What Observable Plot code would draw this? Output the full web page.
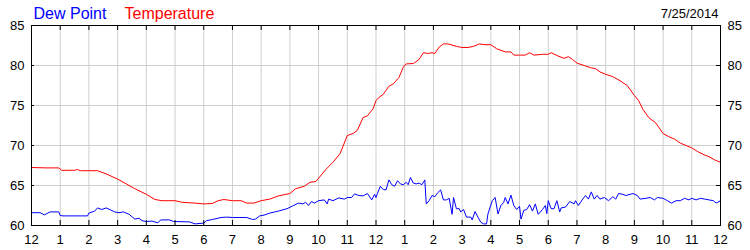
<!DOCTYPE html>
<html>
<head>
<meta charset="utf-8">
<script src="https://cdn.jsdelivr.net/npm/d3@7"></script>
<script src="https://cdn.jsdelivr.net/npm/@observablehq/plot@0.6"></script>
<style>
  html, body { margin: 0; padding: 0; background: #ffffff; }
  #chart svg { display: block; }
</style>
</head>
<body>
<div id="chart"></div>
<script>
// ---- Data (hours since midnight, degrees F) ----
const tempHours = [0,0.5,0.95,1.05,1.5,1.6,1.7,2.3,2.6,3.0,3.3,3.6,4.0,4.3,4.55,5.0,5.25,5.7,6.0,6.3,6.5,6.7,7.0,7.3,7.5,7.75,8.0,8.3,8.6,9.0,9.2,9.5,9.7,9.9,10.0,10.25,10.5,10.75,11.0,11.2,11.35,11.55,11.7,11.9,12.0,12.1,12.25,12.45,12.6,12.8,12.95,13.05,13.3,13.5,13.65,13.8,13.95,14.05,14.2,14.35,14.5,14.8,15.0,15.2,15.4,15.6,15.8,16.0,16.2,16.5,16.7,16.8,17.0,17.2,17.35,17.5,17.8,18.0,18.1,18.3,18.55,18.7,18.85,19.0,19.25,19.5,19.65,19.8,20.0,20.25,20.5,20.75,21.0,21.15,21.3,21.5,21.75,22.0,22.2,22.4,22.6,22.8,23.0,23.2,23.45,23.6,23.8,24.0];
const tempValues = [67.25,67.2,67.2,66.9,66.9,67.0,66.85,66.85,66.45,65.8,65.2,64.6,63.9,63.25,63.1,63.1,62.9,62.8,62.7,62.75,63.1,63.25,63.1,63.1,62.8,62.8,63.1,63.3,63.7,64.0,64.6,64.9,65.4,65.5,65.9,67.0,67.9,69.0,71.25,71.5,71.9,73.5,73.7,74.6,75.6,76.0,76.4,77.4,77.7,78.5,79.8,80.2,80.25,80.75,81.6,81.5,81.6,81.5,82.3,82.7,82.7,82.4,82.25,82.25,82.4,82.7,82.6,82.6,82.1,81.7,81.7,81.3,81.3,81.3,81.6,81.3,81.4,81.4,81.6,81.25,80.9,81.1,80.75,80.3,80.0,79.7,79.6,79.2,78.9,78.6,78.1,77.5,76.25,75.6,74.5,73.5,72.8,71.5,71.1,70.8,70.3,70.0,69.7,69.25,68.8,68.6,68.2,67.9];

const dewHours = [0,0.3,0.45,0.65,0.95,1.0,1.1,1.95,2.0,2.2,2.3,2.45,2.6,2.75,2.9,3.05,3.2,3.4,3.6,3.75,3.85,4.0,4.2,4.4,4.5,4.8,4.95,5.5,5.7,6.0,6.1,6.3,6.6,6.8,7.0,7.5,7.7,7.8,7.95,8.1,8.3,8.6,8.9,9.1,9.3,9.45,9.55,9.65,9.75,9.85,10.0,10.2,10.3,10.35,10.5,10.7,10.9,11.0,11.15,11.25,11.4,11.55,11.7,11.85,11.95,12.0,12.05,12.15,12.25,12.35,12.45,12.55,12.65,12.75,12.85,12.95,13.05,13.12,13.2,13.3,13.4,13.5,13.6,13.7,13.75,13.85,13.95,14.05,14.15,14.25,14.35,14.45,14.55,14.65,14.7,14.8,14.9,14.95,15.05,15.15,15.3,15.35,15.45,15.55,15.65,15.75,15.85,15.9,16.05,16.15,16.25,16.35,16.45,16.5,16.6,16.7,16.8,16.9,17.0,17.05,17.15,17.25,17.35,17.45,17.55,17.65,17.8,17.9,17.95,18.0,18.1,18.2,18.3,18.4,18.45,18.6,18.75,18.9,18.95,19.05,19.2,19.3,19.4,19.5,19.6,19.7,19.8,19.95,20.1,20.25,20.35,20.45,20.6,20.7,20.85,20.95,21.1,21.2,21.4,21.55,21.7,21.8,22.0,22.15,22.3,22.45,22.6,22.75,22.9,23.0,23.15,23.3,23.45,23.6,23.75,23.85,24.0];
const dewValues = [61.6,61.6,61.33,61.7,61.7,61.25,61.2,61.2,61.55,61.8,62.2,62.0,62.2,61.95,61.7,61.6,61.7,61.4,60.8,60.9,60.6,60.5,60.55,60.33,60.7,60.7,60.5,60.45,60.2,60.3,60.6,60.75,61.0,61.05,61.0,61.0,60.75,60.8,61.2,61.3,61.55,61.8,62.1,62.45,62.8,62.7,62.9,62.5,63.0,62.8,63.1,63.2,62.7,63.3,63.1,63.45,63.3,63.5,63.5,63.95,63.75,63.7,64.0,63.2,63.9,63.5,64.0,64.9,64.5,64.45,65.7,65.1,64.9,65.6,65.2,65.1,65.4,65.1,66.0,65.3,65.2,65.3,65.1,65.7,62.7,63.1,63.75,63.6,64.1,64.45,63.2,63.2,63.4,61.4,63.5,62.1,62.1,61.7,62.0,61.05,61.05,60.7,61.75,61.05,60.4,60.2,60.2,61.45,63.1,63.5,61.45,62.5,62.9,63.5,62.7,63.8,62.5,62.0,62.4,60.8,61.9,62.0,62.6,61.8,62.7,61.4,62.0,62.5,61.5,63.1,62.1,62.1,63.1,61.7,62.2,62.3,63.0,62.7,63.1,62.5,63.3,63.75,63.3,64.2,63.3,63.75,63.3,63.5,63.1,63.6,63.3,64.0,63.9,63.75,63.9,64.0,63.75,63.3,63.4,63.5,63.2,63.5,63.4,63.1,62.8,63.1,63.1,63.4,63.2,63.4,63.2,63.4,63.3,63.2,63.1,62.8,63.1];

const hourTicks = [0,1,2,3,4,5,6,7,8,9,10,11,12,13,14,15,16,17,18,19,20,21,22,23,24];
const hourLabels = ["12","1","2","3","4","5","6","7","8","9","10","11","12","1","2","3","4","5","6","7","8","9","10","11","12"];
const yTicks = [60,65,70,75,80,85];
const seriesNames = ["Dew Point", "Temperature"];
const dateLabel = ["7/25/2014"];

// ---- Build tables ----
const temp = tempHours.map((h, i) => ({h, v: tempValues[i]}));
const dew = dewHours.map((h, i) => ({h, v: dewValues[i]}));
const innerHours = hourTicks.filter(h => h > 0 && h < 24);
const innerY = yTicks.filter(v => v > 60 && v < 85);

const W = 750, H = 250, ML = 31, MR = 30, MT = 25, MB = 25;
const FW = W - ML - MR, FH = H - MT - MB;
const font = "'Liberation Sans', Arial, sans-serif";

const chart = Plot.plot({
  width: W, height: H,
  marginLeft: ML, marginRight: MR, marginTop: MT, marginBottom: MB,
  style: {fontFamily: font, fontSize: "13px", background: "#ffffff", color: "#000000", overflow: "visible"},
  x: {domain: [0, 24]},
  y: {domain: [60, 85]},
  marks: [
    Plot.ruleX(innerHours, {stroke: "#cfcfcf", strokeWidth: 1}),
    Plot.ruleY(innerY, {stroke: "#cfcfcf", strokeWidth: 1}),
    Plot.line(temp, {x: "h", y: "v", stroke: "#ff0000", strokeWidth: 1}),
    Plot.line(dew, {x: "h", y: "v", stroke: "#0000ff", strokeWidth: 1}),
    Plot.frame({stroke: "#000000", strokeWidth: 1}),
    Plot.ruleX(hourTicks, {stroke: "#000000", insetBottom: FH - 5}),
    Plot.ruleX(hourTicks, {stroke: "#000000", insetTop: FH - 5}),
    Plot.ruleY(innerY, {stroke: "#000000", insetRight: FW - 3}),
    Plot.ruleY(innerY, {stroke: "#000000", insetLeft: FW - 4}),
    Plot.axisX({anchor: "bottom", ticks: hourTicks, tickSize: 0, tickPadding: 9,
      tickFormat: (d) => hourLabels[hourTicks.indexOf(d)], label: null, fontSize: 13}),
    Plot.axisY({anchor: "left", ticks: yTicks, tickSize: 0, tickPadding: 7, label: null, fontSize: 13}),
    Plot.axisY({anchor: "right", ticks: yTicks, tickSize: 0, tickPadding: 7, label: null, fontSize: 13}),
    Plot.text([seriesNames[0]], {text: d => d, frameAnchor: "top-left", textAnchor: "start", lineAnchor: "bottom",
      dx: 2, dy: -7, fill: "#0000ff", fontSize: 16}),
    Plot.text([seriesNames[1]], {text: d => d, frameAnchor: "top-left", textAnchor: "start", lineAnchor: "bottom",
      dx: 93, dy: -7, fill: "#ff0000", fontSize: 16}),
    Plot.text(dateLabel, {text: d => d, frameAnchor: "top-right", textAnchor: "end", lineAnchor: "bottom",
      dx: -2, dy: -8, fill: "#000000", fontSize: 13})
  ]
});
document.getElementById("chart").appendChild(chart);
</script>
</body>
</html>
